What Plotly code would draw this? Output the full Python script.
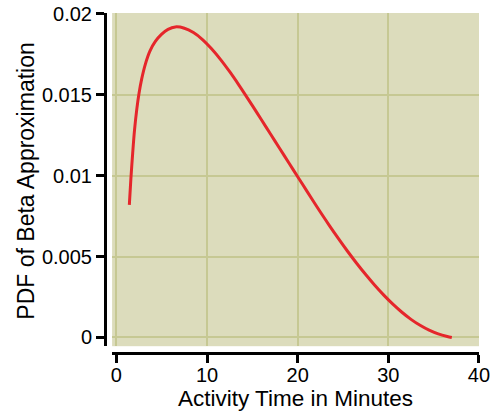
import plotly.graph_objects as go

activity_time = [1.43, 1.6, 1.8, 2.0, 2.25, 2.5, 2.8, 3.2, 3.7, 4.3, 5.0, 5.7, 6.5,
                 7.5, 8.5, 9.5, 10.5, 11.5, 12.5, 13.5, 14.5, 15.5, 16.5, 17.5, 18.5,
                 19.5, 20.5, 21.5, 22.5, 23.5, 24.5, 25.5, 26.5, 27.5, 28.5, 29.5, 30.5,
                 31.5, 32.5, 33.5, 34.5, 35.5, 36.5, 37.0]
pdf_values = [0.0082, 0.0098, 0.0114, 0.0128, 0.0141, 0.0151, 0.0160, 0.0169, 0.0177,
              0.0183, 0.01875, 0.01905, 0.0192, 0.01912, 0.01885, 0.01842, 0.01785,
              0.01718, 0.01643, 0.01562, 0.01477, 0.01390, 0.01302, 0.01214, 0.01126,
              0.01038, 0.00950, 0.00862, 0.00776, 0.00692, 0.00611, 0.00533, 0.00459,
              0.00389, 0.00323, 0.00262, 0.00206, 0.00156, 0.00112, 0.00075, 0.00045,
              0.00022, 0.00006, 0.0]
x_ticks = [0, 10, 20, 30, 40]
y_ticks = [0, 0.005, 0.01, 0.015, 0.02]
y_tick_labels = ["0", "0.005", "0.01", "0.015", "0.02"]
x_title = "Activity Time in Minutes"
y_title = "PDF of Beta Approximation"

font_family = "Arial, Liberation Sans, sans-serif"
grid_color = "#c6c893"

fig = go.Figure()
fig.add_trace(go.Scatter(
    x=activity_time, y=pdf_values, mode="lines",
    line=dict(color="#e5262b", width=3, shape="spline", smoothing=0.8),
    showlegend=False, hoverinfo="skip",
))

fig.update_layout(
    width=495, height=413,
    margin=dict(l=105, r=16, t=13, b=60),
    paper_bgcolor="white",
    plot_bgcolor="#dcdcbc",
    font=dict(family=font_family, size=20, color="black"),
    xaxis=dict(
        domain=[0.019, 1], anchor="free", position=0, automargin=False,
        range=[-0.47, 40], tickvals=x_ticks, ticktext=[str(v) for v in x_ticks],
        showline=True, linecolor="black", linewidth=3,
        ticks="outside", ticklen=8, tickwidth=3, tickcolor="black",
        showgrid=True, gridcolor=grid_color, gridwidth=1.5, zeroline=False,
        tickfont=dict(size=20, family=font_family), ticklabelstandoff=-5,
    ),
    yaxis=dict(
        domain=[0.02, 1], anchor="free", position=0, automargin=False,
        range=[-0.00054, 0.02006], tickvals=y_ticks, ticktext=y_tick_labels,
        showline=True, linecolor="black", linewidth=3,
        ticks="outside", ticklen=8, tickwidth=3, tickcolor="black",
        showgrid=True, gridcolor=grid_color, gridwidth=1.5, zeroline=False,
        tickfont=dict(size=20, family=font_family),
    ),
    annotations=[
        dict(text=x_title, xref="paper", yref="paper", x=0.509, y=-0.1338,
             xanchor="center", yanchor="middle", showarrow=False,
             font=dict(size=22.5, family=font_family, color="black")),
        dict(text=y_title, xref="paper", yref="paper", x=-0.2112, y=0.504,
             xanchor="center", yanchor="middle", showarrow=False, textangle=-90,
             font=dict(size=23, family=font_family, color="black")),
    ],
)

fig.write_html(
    "out.html",
    config={"displayModeBar": False},
    post_script="document.body.style.margin='0';document.body.style.overflow='hidden';",
)
